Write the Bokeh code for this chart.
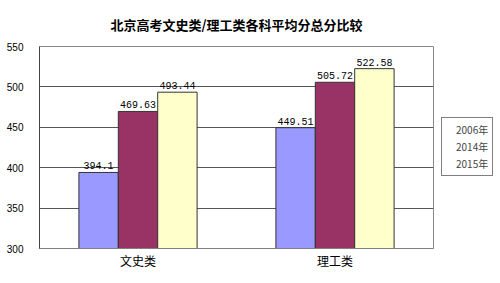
from bokeh.plotting import figure
from bokeh.layouts import row
from bokeh.models import (ColumnDataSource, FactorRange, Range1d, Legend, LegendItem, Title,
                          FixedTicker, CDSView, IndexFilter)
from bokeh.transform import dodge
from bokeh.core.properties import value
from bokeh.embed import file_html
from bokeh.resources import INLINE

categories = ["文史类", "理工类"]
years = ["2006年", "2014年", "2015年"]
scores_2006 = [394.1, 449.51]
scores_2014 = [469.63, 505.72]
scores_2015 = [493.44, 522.58]
y_ticks = [300, 350, 400, 450, 500, 550]
title_text = "北京高考文史类/理工类各科平均分总分比较"

colors = ["#9999FF", "#993366", "#FFFFCC"]
series = [scores_2006, scores_2014, scores_2015]
offsets = [-0.2, 0.0, 0.2]

p = figure(width=440, height=283, output_backend="svg", toolbar_location=None,
           x_range=FactorRange(*categories, range_padding=0), y_range=Range1d(300, 550),
           min_border_left=39, min_border_right=7, min_border_top=46, min_border_bottom=35)
p.title = None
t = Title(text=title_text, align="center", text_font="Noto Sans CJK SC",
          text_font_size="13px", text_font_style="bold", text_color="#000000",
          offset=13, standoff=25)
p.add_layout(t, "above")

p.background_fill_color = "white"
p.border_fill_color = "white"
p.outline_line_color = "#888888"
p.outline_line_width = 1

# legend-only figure at the right (its bars are filtered out, only legend swatches show)
pl = figure(width=60, height=283, output_backend="svg", toolbar_location=None,
            x_range=FactorRange(*categories), y_range=Range1d(300, 550),
            x_axis_location=None, y_axis_location=None,
            min_border_left=0, min_border_right=0, min_border_top=0, min_border_bottom=0)
pl.grid.visible = False
pl.outline_line_color = None
pl.background_fill_color = "white"
pl.border_fill_color = "white"

legend_renderers = []
for vals, col, off in zip(series, colors, offsets):
    src = ColumnDataSource(dict(cat=categories, val=vals, lab=[str(v) for v in vals]))
    p.vbar(x=dodge("cat", off, range=p.x_range), top="val", bottom=300, width=0.2,
           source=src, fill_color=col, line_color="#333333", line_width=1)
    p.text(x=dodge("cat", off, range=p.x_range), y="val", text="lab", source=src,
           text_align="center", text_baseline="bottom", y_offset=-3,
           text_font=value("Liberation Mono"), text_font_size="10px", text_color="#000000")
    lr = pl.vbar(x=dodge("cat", off, range=pl.x_range), top="val", bottom=300, width=0.2,
                 source=src, view=CDSView(filter=IndexFilter([])),
                 fill_color=col, line_color="#333333", line_width=1)
    legend_renderers.append(lr)

legend = Legend(items=[LegendItem(label=y, renderers=[r]) for y, r in zip(years, legend_renderers)],
                location=(1, 72), orientation="vertical",
                glyph_width=7, glyph_height=7, label_standoff=3, padding=4, spacing=2,
                label_height=12, label_width=20, margin=0,
                label_text_font="Noto Sans CJK SC", label_text_font_size="10px",
                border_line_color="#000000", border_line_width=1, background_fill_alpha=1)
pl.add_layout(legend, "center")

p.yaxis.ticker = FixedTicker(ticks=y_ticks)
p.yaxis.major_tick_line_color = None
p.yaxis.minor_tick_line_color = None
p.yaxis.axis_line_color = "#444444"
p.yaxis.major_label_standoff = 10
p.yaxis.major_label_text_font = "Liberation Sans"
p.yaxis.major_label_text_font_size = "10px"
p.yaxis.major_label_text_color = "#000000"

p.xaxis.major_tick_line_color = None
p.xaxis.axis_line_color = "#808080"
p.xaxis.major_label_standoff = -3
p.xaxis.major_label_text_font = "Noto Sans CJK SC"
p.xaxis.major_label_text_font_size = "12px"
p.xaxis.major_label_text_color = "#000000"

p.xgrid.grid_line_color = None
p.ygrid.grid_line_color = "#555555"
p.ygrid.grid_line_width = 1

layout = row(p, pl, spacing=0)
open("out.html", "w").write(file_html(layout, INLINE))
